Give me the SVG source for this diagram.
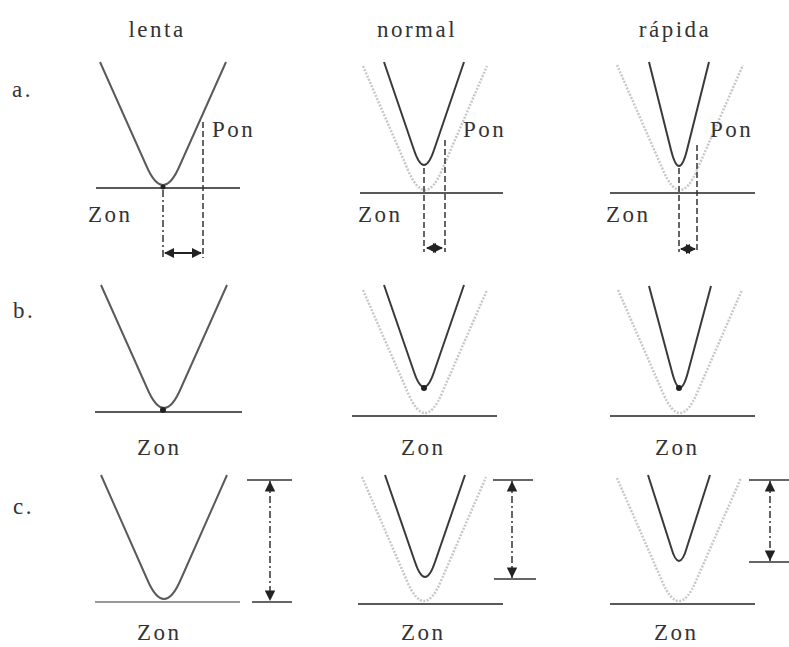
<svg xmlns="http://www.w3.org/2000/svg" width="789" height="647" viewBox="0 0 789 647">
<style>
text{font-size:23px;fill:#333;letter-spacing:2.5px}
.t{text-anchor:middle}
.dk{fill:none;stroke:#3a3a3a;stroke-width:2}
.lk{fill:none;stroke:#5a5a5a;stroke-width:2}
.gr{fill:none;stroke:#c8c8c8;stroke-width:2.5;stroke-dasharray:2 1.5}
.base{stroke:#222;stroke-width:1.6}
.dash{stroke:#333;stroke-width:1.5;stroke-dasharray:6 3;fill:none}
.dd{stroke:#333;stroke-width:1.5;stroke-dasharray:7 3 2 3;fill:none}
.arr{stroke:#222;stroke-width:2;fill:none}
.ref{stroke:#333;stroke-width:1.5}
</style>
<defs>
<marker id="ah" viewBox="0 0 10 10" refX="9" refY="5" markerWidth="5" markerHeight="5" orient="auto-start-reverse" markerUnits="strokeWidth">
<path d="M0,0 L10,5 L0,10 Z" fill="#222"/>
</marker>
<marker id="av" viewBox="0 0 10 10" refX="10" refY="5" markerWidth="8" markerHeight="7" orient="auto-start-reverse" markerUnits="strokeWidth">
<path d="M0,0 L10,5 L0,10 Z" fill="#222"/>
</marker>
</defs>

<g id="headers">
<text class="t" x="157" y="37" font-family="Liberation Serif, serif">lenta</text>
<text class="t" x="417" y="37" font-family="Liberation Serif, serif">normal</text>
<text class="t" x="675" y="37" font-family="Liberation Serif, serif">rápida</text>
<text x="12" y="97" font-family="Liberation Serif, serif">a.</text>
<text x="13" y="318" font-family="Liberation Serif, serif">b.</text>
<text x="13" y="514" font-family="Liberation Serif, serif">c.</text>
</g>

<!-- Row a -->
<g id="a-lenta">
<path class="lk" d="M100,62 L146,165 Q163,205 180,165 L226,62"/>
<line class="base" x1="96" y1="188" x2="240" y2="188"/>
<circle cx="163" cy="187" r="2.5" fill="#222"/>
<text x="88" y="222" font-family="Liberation Serif, serif">Zon</text>
<text x="212" y="137" font-family="Liberation Serif, serif">Pon</text>
</g>
<g id="a-normal">
<path class="gr" d="M363,66 L408,170 Q425,210 442,170 L487,66"/>
<path class="dk" d="M384,62 L414,150 Q424,180 434,150 L464,62"/>
<line class="base" x1="360" y1="193" x2="503" y2="193"/>
<text x="358" y="222" font-family="Liberation Serif, serif">Zon</text>
<text x="463" y="137" font-family="Liberation Serif, serif">Pon</text>
</g>
<g id="a-rapida">
<path class="gr" d="M617,65 L663,170 Q680,210 697,170 L743,65"/>
<path class="dk" d="M649,62 L671,150 Q679,182 687,150 L709,62"/>
<line class="base" x1="610" y1="193" x2="755" y2="193"/>
<text x="606" y="222" font-family="Liberation Serif, serif">Zon</text>
<text x="710" y="137" font-family="Liberation Serif, serif">Pon</text>
</g>

<!-- Row b -->
<g id="b-lenta">
<path class="lk" d="M101,285 L147,388 Q164,428 181,388 L227,285"/>
<line class="base" x1="95" y1="412" x2="242" y2="412"/>
<circle cx="163" cy="410" r="3" fill="#222"/>
<text x="137" y="455" font-family="Liberation Serif, serif">Zon</text>
</g>
<g id="b-normal">
<path class="gr" d="M363,290 L408,393 Q425,433 442,393 L487,290"/>
<path class="dk" d="M384,285 L414,372 Q424,402 434,372 L464,285"/>
<line class="base" x1="352" y1="416" x2="497" y2="416"/>
<circle cx="424" cy="388" r="3" fill="#222"/>
<text x="401" y="455" font-family="Liberation Serif, serif">Zon</text>
</g>
<g id="b-rapida">
<path class="gr" d="M618,290 L663,393 Q680,433 697,393 L742,290"/>
<path class="dk" d="M649,286 L672,372 Q680,403 688,372 L711,286"/>
<line class="base" x1="610" y1="416" x2="755" y2="416"/>
<circle cx="679" cy="388" r="3" fill="#222"/>
<text x="655" y="455" font-family="Liberation Serif, serif">Zon</text>
</g>

<!-- Row c -->
<g id="c-lenta">
<path class="lk" d="M101,475 L147,579 Q164,619 181,579 L227,475"/>
<line x1="95" y1="602" x2="240" y2="602" stroke="#777" stroke-width="1.6"/>
<line class="ref" x1="247" y1="480" x2="292" y2="480"/>
<line class="ref" x1="252" y1="602" x2="292" y2="602"/>
<text x="137" y="640" font-family="Liberation Serif, serif">Zon</text>
</g>
<g id="c-normal">
<path class="gr" d="M362,477 L407,581 Q424,621 441,581 L486,477"/>
<path class="dk" d="M385,475 L415,562 Q425,592 435,562 L465,475"/>
<line class="base" x1="358" y1="604" x2="503" y2="604"/>
<line class="ref" x1="493" y1="480" x2="533" y2="480"/>
<line class="ref" x1="494" y1="579" x2="536" y2="579"/>
<text x="401" y="640" font-family="Liberation Serif, serif">Zon</text>
</g>
<g id="c-rapida">
<path class="gr" d="M617,478 L662,581 Q679,621 696,581 L741,478"/>
<path class="dk" d="M648,475 L671,547 Q679,575 687,547 L710,475"/>
<line class="base" x1="610" y1="604" x2="755" y2="604"/>
<line class="ref" x1="749" y1="480" x2="789" y2="480"/>
<line class="ref" x1="749" y1="562" x2="789" y2="562"/>
<text x="654" y="640" font-family="Liberation Serif, serif">Zon</text>
</g>

<g id="connectors">
<line class="dd" x1="163" y1="190" x2="163" y2="258"/>
<line class="dash" x1="203" y1="122" x2="203" y2="258"/>
<line class="arr" x1="165" y1="253" x2="201" y2="253" marker-start="url(#ah)" marker-end="url(#ah)"/>
<line class="dash" x1="424" y1="168" x2="424" y2="252"/>
<line class="dash" x1="445" y1="140" x2="445" y2="252"/>
<line class="arr" x1="427" y1="248" x2="442" y2="248" marker-start="url(#ah)" marker-end="url(#ah)"/>
<line class="dash" x1="679" y1="168" x2="679" y2="252"/>
<line class="dash" x1="697" y1="145" x2="697" y2="252"/>
<line class="arr" x1="681" y1="249" x2="695" y2="249" marker-start="url(#ah)" marker-end="url(#ah)"/>
<line class="dd" x1="270" y1="481" x2="270" y2="601" marker-start="url(#av)" marker-end="url(#av)"/>
<line class="dd" x1="512" y1="481" x2="512" y2="578" marker-start="url(#av)" marker-end="url(#av)"/>
<line class="dd" x1="770" y1="481" x2="770" y2="561" marker-start="url(#av)" marker-end="url(#av)"/>
</g>
</svg>
